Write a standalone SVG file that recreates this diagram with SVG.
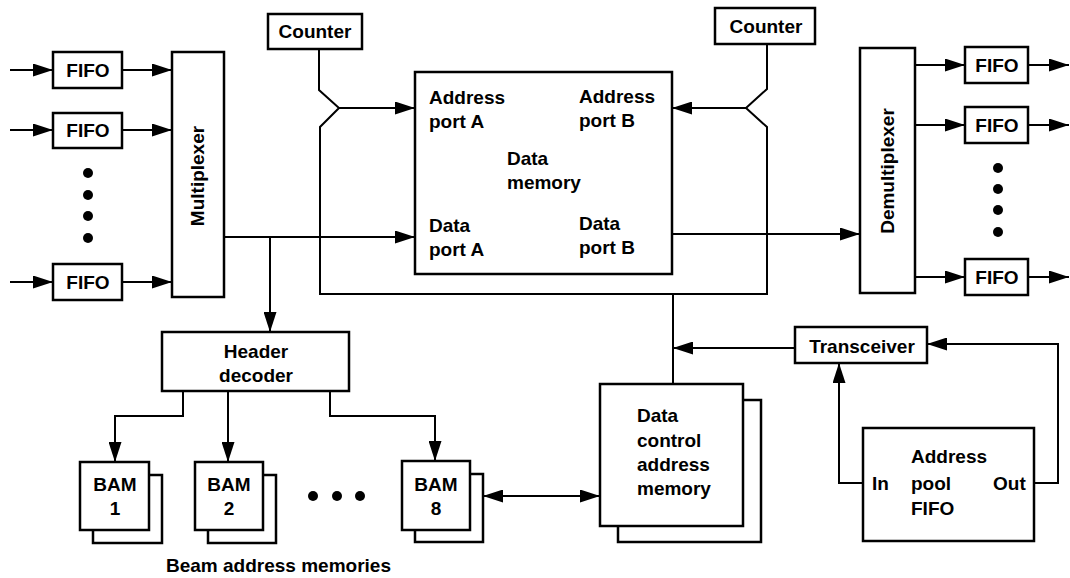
<svg xmlns="http://www.w3.org/2000/svg" width="1070" height="578" viewBox="0 0 1070 578">
<style>
.box{fill:#fff;stroke:#000;stroke-width:2.5}
.ln{fill:none;stroke:#000;stroke-width:2}
.t{font-family:"Liberation Sans",Arial,sans-serif;font-weight:bold;font-size:19px;fill:#000}
.c{text-anchor:middle}
.dot{fill:#000}
</style>
<defs>
<marker id="ah" viewBox="0 0 20 13" refX="20" refY="6.5" markerWidth="20" markerHeight="13" markerUnits="userSpaceOnUse" orient="auto-start-reverse">
<path d="M0,0 L20,6.5 L0,13 z" fill="#000"/>
</marker>
</defs>
<rect width="1070" height="578" fill="#fff"/>

<g id="connectors">
<line class="ln" x1="10" y1="70" x2="53" y2="70" marker-end="url(#ah)"/>
<line class="ln" x1="10" y1="130" x2="53" y2="130" marker-end="url(#ah)"/>
<line class="ln" x1="10" y1="282" x2="53" y2="282" marker-end="url(#ah)"/>
<line class="ln" x1="122" y1="70" x2="172" y2="70" marker-end="url(#ah)"/>
<line class="ln" x1="122" y1="130" x2="172" y2="130" marker-end="url(#ah)"/>
<line class="ln" x1="122" y1="282" x2="172" y2="282" marker-end="url(#ah)"/>
<line class="ln" x1="224" y1="237" x2="415" y2="237" marker-end="url(#ah)"/>
<line class="ln" x1="270" y1="237" x2="270" y2="332" marker-end="url(#ah)"/>
<path class="ln" d="M319,49 V90 L339,108 L320,127 V294 H767 V127 L746,108 L767,89 V44"/>
<line class="ln" x1="339" y1="108" x2="415" y2="108" marker-end="url(#ah)"/>
<line class="ln" x1="746" y1="108" x2="672" y2="108" marker-end="url(#ah)"/>
<line class="ln" x1="672" y1="234" x2="860" y2="234" marker-end="url(#ah)"/>
<line class="ln" x1="915" y1="65" x2="965" y2="65" marker-end="url(#ah)"/>
<line class="ln" x1="915" y1="125" x2="965" y2="125" marker-end="url(#ah)"/>
<line class="ln" x1="915" y1="277" x2="965" y2="277" marker-end="url(#ah)"/>
<line class="ln" x1="1028" y1="65" x2="1069" y2="65" marker-end="url(#ah)"/>
<line class="ln" x1="1028" y1="125" x2="1069" y2="125" marker-end="url(#ah)"/>
<line class="ln" x1="1028" y1="277" x2="1069" y2="277" marker-end="url(#ah)"/>
<path class="ln" d="M183,391 V416 H115 V462" marker-end="url(#ah)"/>
<line class="ln" x1="228" y1="391" x2="228" y2="462" marker-end="url(#ah)"/>
<path class="ln" d="M330,391 V416 H435 V461" marker-end="url(#ah)"/>
<line class="ln" x1="483" y1="496" x2="600" y2="496" marker-start="url(#ah)" marker-end="url(#ah)"/>
<line class="ln" x1="673" y1="294" x2="673" y2="384"/>
<line class="ln" x1="795" y1="348" x2="673" y2="348" marker-end="url(#ah)"/>
<path class="ln" d="M863,483 H839 V363" marker-end="url(#ah)"/>
<path class="ln" d="M1034,483 H1058 V344 H927" marker-end="url(#ah)"/>
</g>

<g id="fifo-in-1"><rect class="box" x="53" y="52" width="69" height="36"/><text class="t c" x="88" y="77">FIFO</text></g>
<g id="fifo-in-2"><rect class="box" x="53" y="113" width="69" height="35"/><text class="t c" x="88" y="137">FIFO</text></g>
<g id="fifo-in-3"><rect class="box" x="53" y="264" width="69" height="36"/><text class="t c" x="88" y="289">FIFO</text></g>
<g id="dots-in"><circle class="dot" cx="88" cy="173" r="5"/><circle class="dot" cx="88" cy="195" r="5"/><circle class="dot" cx="88" cy="216" r="5"/><circle class="dot" cx="88" cy="238" r="5"/></g>

<g id="multiplexer"><rect class="box" x="172" y="52" width="52" height="245"/><text class="t c" transform="translate(204,176) rotate(-90)">Multiplexer</text></g>

<g id="counter-a"><rect class="box" x="268" y="14" width="94" height="35"/><text class="t c" x="315" y="38">Counter</text></g>
<g id="counter-b"><rect class="box" x="715" y="8" width="100" height="36"/><text class="t c" x="766" y="33">Counter</text></g>

<g id="data-memory"><rect class="box" x="415" y="72" width="257" height="202"/>
<text class="t" x="429" y="104">Address</text><text class="t" x="429" y="128">port A</text>
<text class="t" x="579" y="103">Address</text><text class="t" x="579" y="127">port B</text>
<text class="t" x="507" y="165">Data</text><text class="t" x="507" y="189">memory</text>
<text class="t" x="429" y="232">Data</text><text class="t" x="429" y="256">port A</text>
<text class="t" x="579" y="230">Data</text><text class="t" x="579" y="254">port B</text>
</g>

<g id="demultiplexer"><rect class="box" x="860" y="48" width="55" height="245"/><text class="t c" transform="translate(894,171) rotate(-90)">Demultiplexer</text></g>

<g id="fifo-out-1"><rect class="box" x="965" y="47" width="63" height="36"/><text class="t c" x="997" y="72">FIFO</text></g>
<g id="fifo-out-2"><rect class="box" x="965" y="107" width="63" height="36"/><text class="t c" x="997" y="132">FIFO</text></g>
<g id="fifo-out-3"><rect class="box" x="965" y="259" width="63" height="36"/><text class="t c" x="997" y="284">FIFO</text></g>
<g id="dots-out"><circle class="dot" cx="998" cy="168" r="5"/><circle class="dot" cx="998" cy="189" r="5"/><circle class="dot" cx="998" cy="210" r="5"/><circle class="dot" cx="998" cy="232" r="5"/></g>

<g id="header-decoder"><rect class="box" x="162" y="332" width="187" height="59"/><text class="t c" x="256" y="358">Header</text><text class="t c" x="256" y="382">decoder</text></g>

<g id="bam-1"><rect class="box" x="93" y="475" width="69" height="68"/><rect class="box" x="80" y="462" width="69" height="68"/><text class="t c" x="115" y="491">BAM</text><text class="t c" x="115" y="515">1</text></g>
<g id="bam-2"><rect class="box" x="208" y="475" width="68" height="68"/><rect class="box" x="195" y="462" width="68" height="68"/><text class="t c" x="229" y="491">BAM</text><text class="t c" x="229" y="515">2</text></g>
<g id="dots-bam"><circle class="dot" cx="313" cy="496" r="5"/><circle class="dot" cx="337" cy="496" r="5"/><circle class="dot" cx="360" cy="496" r="5"/></g>
<g id="bam-8"><rect class="box" x="415" y="474" width="68" height="68"/><rect class="box" x="402" y="461" width="68" height="69"/><text class="t c" x="436" y="491">BAM</text><text class="t c" x="436" y="515">8</text></g>
<text id="bam-label" class="t" x="166" y="572">Beam address memories</text>

<g id="data-control-address-memory"><rect class="box" x="618" y="400" width="143" height="142"/><rect class="box" x="600" y="384" width="143" height="142"/>
<text class="t" x="637" y="422">Data</text><text class="t" x="637" y="447">control</text><text class="t" x="637" y="471">address</text><text class="t" x="637" y="495">memory</text></g>

<g id="transceiver"><rect class="box" x="795" y="327" width="132" height="36"/><text class="t c" x="862" y="353">Transceiver</text></g>

<g id="address-pool-fifo"><rect class="box" x="863" y="428" width="171" height="113"/>
<text class="t" x="872" y="490">In</text><text class="t" x="911" y="463">Address</text><text class="t" x="911" y="490">pool</text><text class="t" x="911" y="515">FIFO</text><text class="t" x="993" y="490">Out</text></g>
</svg>
